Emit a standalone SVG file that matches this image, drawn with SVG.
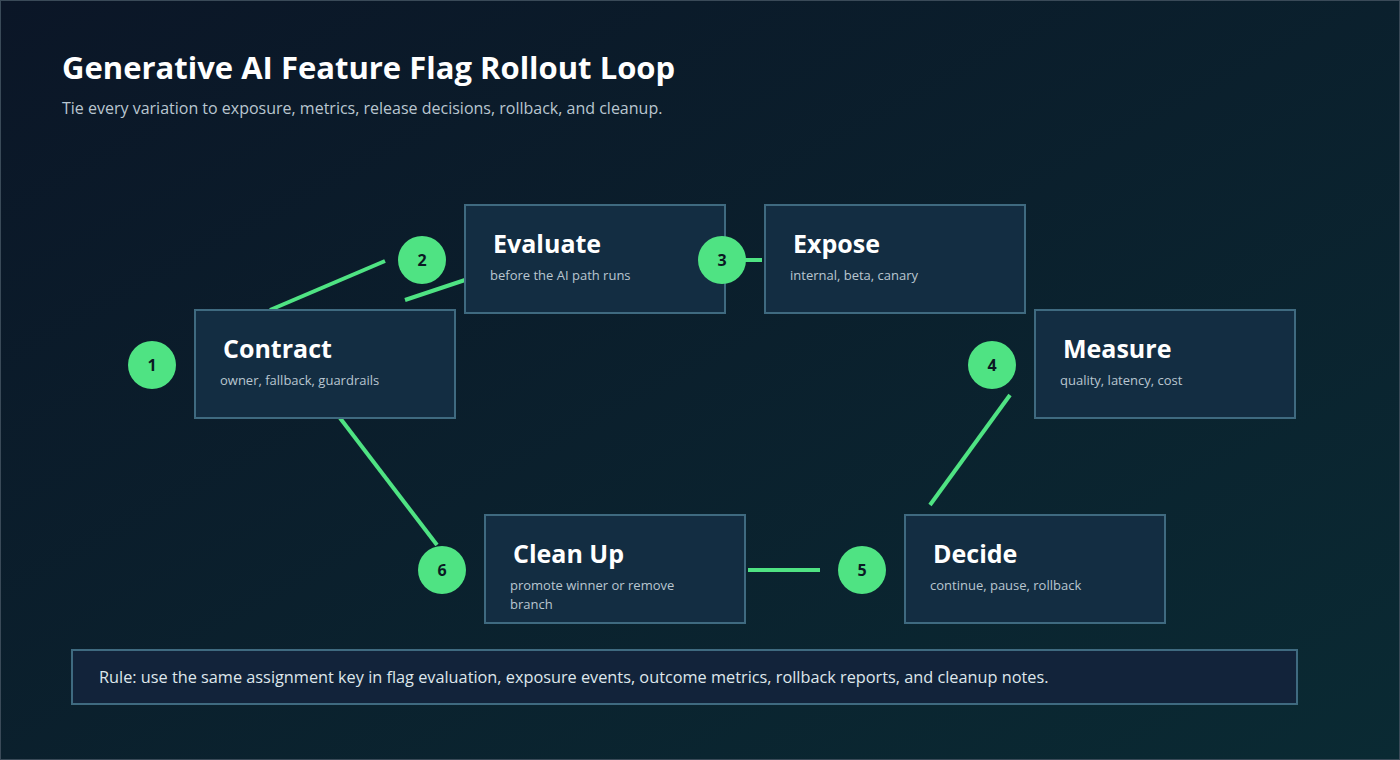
<svg xmlns="http://www.w3.org/2000/svg" width="1400" height="760" viewBox="0 0 1400 760">
<defs>
<linearGradient id="bg" x1="0" y1="0" x2="1" y2="1">
<stop offset="0" stop-color="#0b1627"/><stop offset="1" stop-color="#0a2a33"/>
</linearGradient>
<style>
.box{fill:#132d42;stroke:#3f6a80;stroke-width:2}
.t{font-family:"Open Sans","Noto Sans",sans-serif;font-weight:700;font-size:25px;fill:#ffffff}
.s{font-family:"Open Sans","Noto Sans",sans-serif;font-size:13px;fill:#b9c6d0}
.c{fill:#4fe383}
.n{font-family:"Open Sans","Noto Sans",sans-serif;font-weight:700;font-size:16px;fill:#0b1a24;text-anchor:middle}
.l{stroke:#4fe383;stroke-width:4;fill:none}
</style>
</defs>
<rect width="1400" height="760" fill="url(#bg)"/>
<rect x="0.5" y="0.5" width="1399" height="759" fill="none" stroke="#3a4a58"/>
<text x="62" y="79" font-family="Open Sans,Noto Sans,sans-serif" font-weight="700" font-size="31" fill="#fff">Generative AI Feature Flag Rollout Loop</text>
<text x="62" y="114" font-family="Open Sans,Noto Sans,sans-serif" font-size="16" fill="#b9c6d0">Tie every variation to exposure, metrics, release decisions, rollback, and cleanup.</text>
<g id="connectors">
<line class="l" x1="270" y1="310" x2="385" y2="261"/>
<line class="l" x1="405" y1="300" x2="465" y2="280"/>
<line class="l" x1="745" y1="260" x2="762" y2="260"/>
<line class="l" x1="1010" y1="395" x2="930" y2="505"/>
<line class="l" x1="748" y1="570" x2="820" y2="570"/>
<line class="l" x1="340" y1="418" x2="437" y2="545"/>
</g>
<g id="contract"><rect class="box" x="195" y="310" width="260" height="108"/><text class="t" x="223" y="358">Contract</text><text class="s" x="220" y="385">owner, fallback, guardrails</text></g>
<g id="evaluate"><rect class="box" x="465" y="205" width="260" height="108"/><text class="t" x="493" y="253">Evaluate</text><text class="s" x="490" y="280">before the AI path runs</text></g>
<g id="expose"><rect class="box" x="765" y="205" width="260" height="108"/><text class="t" x="793" y="253">Expose</text><text class="s" x="790" y="280">internal, beta, canary</text></g>
<g id="measure"><rect class="box" x="1035" y="310" width="260" height="108"/><text class="t" x="1063" y="358">Measure</text><text class="s" x="1060" y="385">quality, latency, cost</text></g>
<g id="decide"><rect class="box" x="905" y="515" width="260" height="108"/><text class="t" x="933" y="563">Decide</text><text class="s" x="930" y="590">continue, pause, rollback</text></g>
<g id="cleanup"><rect class="box" x="485" y="515" width="260" height="108"/><text class="t" x="513" y="563">Clean Up</text><text class="s" x="510" y="590">promote winner or remove</text><text class="s" x="510" y="609">branch</text></g>
<g id="n1"><circle class="c" cx="152" cy="365" r="24"/><text class="n" x="152" y="371">1</text></g>
<g id="n2"><circle class="c" cx="422" cy="260" r="24"/><text class="n" x="422" y="266">2</text></g>
<g id="n3"><circle class="c" cx="722" cy="260" r="24"/><text class="n" x="722" y="266">3</text></g>
<g id="n4"><circle class="c" cx="992" cy="365" r="24"/><text class="n" x="992" y="371">4</text></g>
<g id="n5"><circle class="c" cx="862" cy="570" r="24"/><text class="n" x="862" y="576">5</text></g>
<g id="n6"><circle class="c" cx="442" cy="570" r="24"/><text class="n" x="442" y="576">6</text></g>
<g id="rule"><rect x="72" y="650" width="1225" height="54" fill="#12233a" stroke="#3f6a80" stroke-width="2"/><text x="99" y="683" font-family="Open Sans,Noto Sans,sans-serif" font-size="16.3" fill="#dfe7ec">Rule: use the same assignment key in flag evaluation, exposure events, outcome metrics, rollback reports, and cleanup notes.</text></g>
</svg>
